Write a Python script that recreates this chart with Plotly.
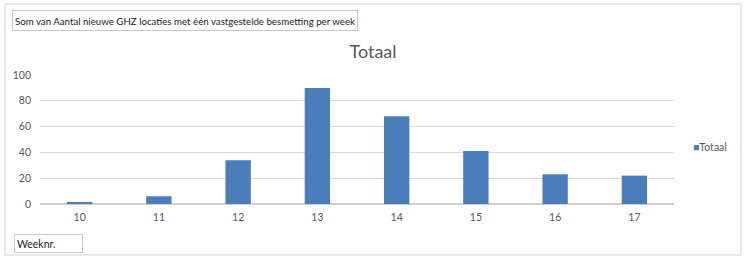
import plotly.graph_objects as go

weeks = ["10", "11", "12", "13", "14", "15", "16", "17"]
totaal = [1, 6, 34, 90, 68, 41, 23, 22]
y_ticks = [0, 20, 40, 60, 80, 100]
series_name = "Totaal"

W, H = 746, 259
L, R, T, B = 40, 72, 75, 55
pw, ph = W - L - R, H - T - B

def px(x):
    return (x - L) / pw

def py(y):
    return (H - B - y) / ph

BAR = "#4a7ebb"
fig = go.Figure()
fig.add_trace(go.Bar(x=weeks, y=totaal, name=series_name, marker_color=BAR,
                     marker_line_width=0, showlegend=False))

font = "Lato, Open Sans, sans-serif"
fig.update_layout(
    width=W, height=H, autosize=False,
    margin=dict(l=L, r=R, t=T, b=B, autoexpand=False),
    paper_bgcolor="white", plot_bgcolor="white",
    bargap=0.68,
    font=dict(family=font, color="#595959", size=10),
    title=dict(text="Totaal", x=0.5, xref="container", xanchor="center",
               y=1 - 52 / H, yref="container", yanchor="middle",
               font=dict(size=18, color="#595959", family=font)),
    showlegend=False,
    xaxis=dict(type="category", showgrid=False, showline=False, ticks="", automargin=False,
               ticklabelstandoff=5, tickfont=dict(size=10.5, color="#595959")),
    yaxis=dict(range=[0, 100], tickvals=y_ticks, showgrid=True, gridcolor="#d9d9d9",
               gridwidth=1, zeroline=True, zerolinecolor="#d0d0d0", showline=False,
               automargin=False,
               ticks="", ticklabelstandoff=8, tickfont=dict(size=10.5, color="#595959")),
)

# legend drawn as text entry
fig.add_annotation(text=f"<span style='color:{BAR}'>■</span>{series_name}",
                   xref="paper", yref="paper", x=px(691), y=py(147), xanchor="left",
                   yanchor="middle", showarrow=False,
                   font=dict(size=10.5, color="#595959", family=font))

fig.add_annotation(text="Som van Aantal nieuwe GHZ locaties met één vastgestelde besmetting per week",
                   xref="paper", yref="paper", x=px(12), y=py(10), xanchor="left", yanchor="top",
                   showarrow=False, bordercolor="#c8c8c8", borderwidth=1, borderpad=2,
                   height=15,
                   font=dict(size=9.7, color="#222222", family=font), align="left")
fig.add_annotation(text="Weeknr.",
                   xref="paper", yref="paper", x=px(14), y=py(234), xanchor="left", yanchor="top",
                   showarrow=False, bordercolor="#c8c8c8", borderwidth=1, borderpad=2,
                   width=63, height=13,
                   font=dict(size=10.5, color="#222222", family=font), align="left")

fig.add_shape(type="rect", xref="paper", yref="paper",
              x0=px(5), x1=px(741), y0=py(255), y1=py(4),
              line=dict(color="#d0d0d0", width=1), layer="below")

fig.write_html("out.html", config={"displayModeBar": False},
               post_script="document.body.style.margin='0';document.body.style.overflow='hidden';")
